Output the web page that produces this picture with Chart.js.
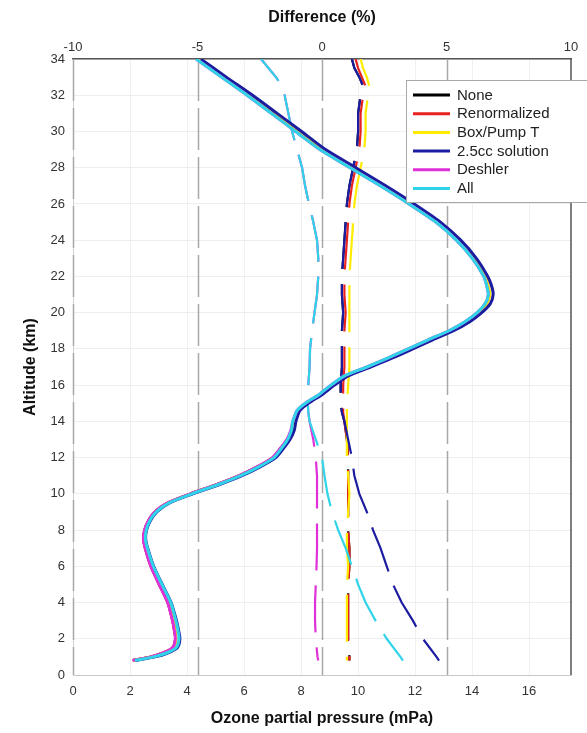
<!DOCTYPE html>
<html>
<head>
<meta charset="utf-8">
<script src="https://cdn.jsdelivr.net/npm/chart.js@4.4.1/dist/chart.umd.min.js"></script>
<style>
  html, body { margin: 0; padding: 0; background: #ffffff; }
  canvas { display: block; }
</style>
</head>
<body>
<canvas id="chart" width="587" height="733"></canvas>
<script>
// Correction schemes, in legend order
const seriesNames  = ['None', 'Renormalized', 'Box/Pump T', '2.5cc solution', 'Deshler', 'All'];
const seriesColors = ['#000000', '#e8231f', '#ffec00', '#1c1ca0', '#e030d8', '#30d4e8'];

// Axis ticks
const altitudeTicks = [0, 2, 4, 6, 8, 10, 12, 14, 16, 18, 20, 22, 24, 26, 28, 30, 32, 34];
const pressureTicks = [0, 2, 4, 6, 8, 10, 12, 14, 16];
const differenceTicks = [-10, -5, 0, 5, 10];
const referenceDiffs = [-10, -5, 0, 5];

// Ozone partial pressure profiles (mPa) against altitude (km)
const profileAlt = [34, 33, 32, 31, 30, 29, 28, 27, 26, 25, 24, 23, 22, 21.5, 21, 20.5, 20, 19.5, 19, 18.5,
  18, 17.5, 17, 16.5, 16, 15.5, 15, 14.6, 14.3, 14, 13.5, 13, 12.5, 12, 11.5, 11, 10.5, 10, 9.5, 9,
  8.5, 8, 7.5, 7, 6, 5, 4, 3, 2.5, 2, 1.5, 1.2, 1.0, 0.8];

const profileNone = [4.42, 5.30, 6.20, 7.05, 7.90, 8.74, 9.80, 10.85, 11.85, 12.77, 13.48, 14.03, 14.43, 14.54, 14.60, 14.50, 14.22, 13.80, 13.24, 12.52,
  11.82, 11.12, 10.36, 9.56, 9.10, 8.70, 8.20, 7.90, 7.82, 7.75, 7.68, 7.53, 7.29, 7.02, 6.49, 5.84, 5.04, 4.13, 3.33, 2.88,
  2.65, 2.52, 2.48, 2.54, 2.74, 3.03, 3.33, 3.50, 3.56, 3.60, 3.50, 3.15, 2.74, 2.10];
const profileRenorm = [4.42, 5.30, 6.20, 7.05, 7.90, 8.74, 9.80, 10.85, 11.85, 12.77, 13.48, 14.03, 14.43, 14.54, 14.60, 14.50, 14.22, 13.80, 13.24, 12.52,
  11.82, 11.12, 10.36, 9.56, 9.10, 8.70, 8.20, 7.90, 7.82, 7.75, 7.68, 7.53, 7.29, 7.02, 6.49, 5.84, 5.04, 4.13, 3.33, 2.88,
  2.65, 2.52, 2.48, 2.54, 2.74, 3.03, 3.33, 3.50, 3.56, 3.60, 3.50, 3.15, 2.74, 2.10];
const profileBox = [4.43, 5.31, 6.21, 7.06, 7.92, 8.76, 9.82, 10.87, 11.87, 12.79, 13.50, 14.05, 14.45, 14.56, 14.62, 14.52, 14.24, 13.82, 13.26, 12.54,
  11.84, 11.14, 10.37, 9.57, 9.11, 8.71, 8.21, 7.91, 7.83, 7.76, 7.69, 7.54, 7.30, 7.03, 6.50, 5.85, 5.05, 4.14, 3.34, 2.89,
  2.66, 2.53, 2.49, 2.55, 2.75, 3.04, 3.34, 3.51, 3.57, 3.61, 3.51, 3.16, 2.75, 2.11];
const profile25cc = [4.48, 5.38, 6.30, 7.16, 8.02, 8.86, 9.92, 10.97, 11.97, 12.89, 13.60, 14.15, 14.55, 14.68, 14.74, 14.64, 14.34, 13.92, 13.35, 12.62,
  11.92, 11.21, 10.44, 9.64, 9.17, 8.76, 8.26, 7.96, 7.88, 7.82, 7.76, 7.61, 7.38, 7.11, 6.58, 5.93, 5.12, 4.20, 3.39, 2.94,
  2.71, 2.58, 2.55, 2.62, 2.83, 3.13, 3.44, 3.63, 3.70, 3.75, 3.66, 3.30, 2.87, 2.20];
const profileDeshler = [4.32, 5.21, 6.11, 6.96, 7.81, 8.66, 9.72, 10.78, 11.79, 12.73, 13.45, 14.01, 14.41, 14.51, 14.57, 14.46, 14.18, 13.75, 13.19, 12.46,
  11.76, 11.06, 10.31, 9.51, 9.05, 8.65, 8.15, 7.86, 7.78, 7.71, 7.64, 7.50, 7.27, 7.00, 6.47, 5.83, 5.03, 4.12, 3.32, 2.87,
  2.64, 2.51, 2.47, 2.53, 2.73, 3.02, 3.32, 3.49, 3.55, 3.59, 3.49, 3.14, 2.73, 2.09];
const profileAll = [4.32, 5.21, 6.11, 6.96, 7.81, 8.66, 9.72, 10.78, 11.79, 12.73, 13.45, 14.01, 14.41, 14.51, 14.57, 14.46, 14.18, 13.75, 13.19, 12.46,
  11.76, 11.06, 10.31, 9.51, 9.05, 8.65, 8.15, 7.86, 7.78, 7.71, 7.66, 7.53, 7.31, 7.05, 6.53, 5.88, 5.08, 4.17, 3.37, 2.92,
  2.69, 2.57, 2.54, 2.61, 2.82, 3.12, 3.43, 3.61, 3.68, 3.72, 3.62, 3.26, 2.83, 2.17];

// Percent differences against altitude (km)
const diffAlt = [34, 33.5, 33, 32.5, 32, 31, 30, 29, 28, 27, 26, 25, 24, 23, 22, 21, 20, 19, 18, 17,
  16, 15, 14.5, 14, 13, 12, 11, 10, 9, 8, 7, 6, 5, 4, 3, 2, 1, 0.8];

const diffNone = [1.2, 1.3, 1.5, 1.65, 1.55, 1.45, 1.45, 1.4, 1.25, 1.1, 1.0, 0.95, 0.9, 0.85, 0.8, 0.8, 0.85, 0.8, 0.8, 0.8,
  0.75, 0.75, 0.8, 0.9, 1.0, 1.05, 1.05, 1.05, 1.05, 1.05, 1.1, 1.1, 1.05, 1.05, 1.05, 1.05, 1.1, 1.1];
const diffRenorm = [1.35, 1.45, 1.6, 1.75, 1.65, 1.55, 1.55, 1.5, 1.35, 1.2, 1.1, 1.05, 1.0, 0.95, 0.9, 0.9, 0.95, 0.9, 0.9, 0.9,
  0.85, 0.85, 0.85, 0.9, 1.0, 1.05, 1.05, 1.05, 1.05, 1.05, 1.1, 1.1, 1.05, 1.05, 1.05, 1.05, 1.1, 1.1];
const diffBox = [1.55, 1.65, 1.8, 1.9, 1.85, 1.75, 1.75, 1.7, 1.55, 1.4, 1.3, 1.25, 1.2, 1.15, 1.1, 1.1, 1.1, 1.1, 1.1, 1.1,
  1.05, 1.0, 1.0, 1.0, 1.0, 1.0, 1.05, 1.1, 1.05, 1.0, 1.0, 1.05, 1.0, 1.0, 1.0, 1.0, 1.0, 1.0];
const diff25cc = [1.2, 1.3, 1.5, 1.65, 1.55, 1.45, 1.45, 1.4, 1.25, 1.1, 1.0, 0.95, 0.9, 0.85, 0.8, 0.8, 0.85, 0.8, 0.8, 0.8,
  0.75, 0.75, 0.8, 0.9, 1.05, 1.2, 1.3, 1.5, 1.8, 2.05, 2.35, 2.6, 2.85, 3.2, 3.65, 4.05, 4.6, 4.7];
const diffDeshler = [-2.45, -2.15, -1.85, -1.6, -1.5, -1.35, -1.2, -1.0, -0.8, -0.68, -0.52, -0.35, -0.2, -0.15, -0.15, -0.2, -0.3, -0.4, -0.48, -0.5,
  -0.55, -0.57, -0.55, -0.5, -0.35, -0.25, -0.2, -0.2, -0.2, -0.2, -0.2, -0.22, -0.25, -0.28, -0.28, -0.25, -0.18, -0.15];
const diffAll = [-2.45, -2.15, -1.85, -1.6, -1.5, -1.35, -1.2, -1.0, -0.8, -0.68, -0.52, -0.35, -0.2, -0.15, -0.15, -0.2, -0.3, -0.4, -0.48, -0.5,
  -0.55, -0.57, -0.55, -0.5, -0.25, 0.0, 0.1, 0.22, 0.4, 0.65, 0.95, 1.2, 1.45, 1.75, 2.15, 2.6, 3.15, 3.25];

const profiles = [profileNone, profileRenorm, profileBox, profile25cc, profileDeshler, profileAll];
const diffs = [diffNone, diffRenorm, diffBox, diff25cc, diffDeshler, diffAll];

const pairUp = (xs, alts) => xs.map((v, i) => ({ x: v, y: alts[i] }));

const FONT = '"Liberation Sans", Arial, Helvetica, sans-serif';

// Chart.js draws dataset 0 last (on top), so the lists are reversed:
// profiles above the dashed difference curves, "All" uppermost within each group.
const profileSets = [];
for (let i = seriesNames.length - 1; i >= 0; i--) {
  profileSets.push({
    label: seriesNames[i] + ' (profile)',
    data: pairUp(profiles[i], profileAlt),
    xAxisID: 'x',
    yAxisID: 'y',
    borderColor: seriesColors[i],
    borderWidth: 3,
    pointRadius: 0,
    tension: 0.25,
    fill: false,
    showLine: true
  });
}
const diffSets = [];
for (let i = seriesNames.length - 1; i >= 0; i--) {
  diffSets.push({
    label: seriesNames[i] + ' (difference)',
    data: pairUp(diffs[i], diffAlt),
    xAxisID: 'x2',
    yAxisID: 'y',
    borderColor: seriesColors[i],
    borderWidth: 2.2,
    borderDash: [47, 15],
    borderDashOffset: 19,
    pointRadius: 0,
    tension: 0,
    fill: false,
    showLine: true
  });
}
const allSets = profileSets.concat(diffSets);

// Dashed grey verticals at the difference reference values, plus the right frame edge
const framePlugin = {
  id: 'frameLines',
  beforeDatasetsDraw(chart) {
    const { ctx, chartArea } = chart;
    const sx = chart.scales.x2;
    ctx.save();
    ctx.strokeStyle = '#a8a8a8';
    ctx.lineWidth = 1.5;
    ctx.setLineDash([42, 7]);
    referenceDiffs.forEach(v => {
      const px = Math.round(sx.getPixelForValue(v)) + 0.5;
      ctx.beginPath();
      ctx.moveTo(px, chartArea.top);
      ctx.lineTo(px, chartArea.bottom);
      ctx.stroke();
    });
    ctx.restore();
  },
  afterDatasetsDraw(chart) {
    const { ctx, chartArea } = chart;
    ctx.save();
    ctx.strokeStyle = '#555555';
    ctx.lineWidth = 1.5;
    ctx.beginPath();
    ctx.moveTo(chartArea.right, chartArea.top);
    ctx.lineTo(chartArea.right, chartArea.bottom);
    ctx.stroke();
    ctx.restore();
  }
};

// Boxed key in the upper right, drawn over the plot
const keyPlugin = {
  id: 'seriesKey',
  afterDraw(chart) {
    const ctx = chart.ctx;
    const left = 406, top = 80, w = 190, h = 122;
    ctx.save();
    ctx.fillStyle = '#ffffff';
    ctx.fillRect(left, top, w, h);
    ctx.strokeStyle = '#a8a8a8';
    ctx.lineWidth = 1;
    ctx.strokeRect(left + 0.5, top + 0.5, w, h);
    ctx.font = '15px ' + FONT;
    ctx.textBaseline = 'middle';
    ctx.textAlign = 'left';
    seriesNames.forEach((name, i) => {
      const y = 95 + i * 18.7;
      ctx.strokeStyle = seriesColors[i];
      ctx.lineWidth = 3;
      ctx.beginPath();
      ctx.moveTo(413, y);
      ctx.lineTo(450, y);
      ctx.stroke();
      ctx.fillStyle = '#222222';
      ctx.fillText(name, 457, y + 0.5);
    });
    ctx.restore();
  }
};

new Chart(document.getElementById('chart'), {
  type: 'scatter',
  data: { datasets: allSets },
  options: {
    responsive: false,
    animation: false,
    devicePixelRatio: 1,
    layout: { padding: { left: 0, right: 16, top: 0, bottom: 0 } },
    plugins: {
      legend: { display: false },
      tooltip: { enabled: false }
    },
    scales: {
      x: {
        type: 'linear',
        position: 'bottom',
        min: 0,
        max: 17.47,
        afterBuildTicks: s => { s.ticks = pressureTicks.map(v => ({ value: v })); },
        ticks: { font: { size: 13, family: FONT }, color: '#333333', padding: 9 },
        grid: { color: '#f0f0f0', drawTicks: false },
        border: { display: true, color: '#c8c8c8', width: 1 },
        title: {
          display: true,
          text: 'Ozone partial pressure (mPa)',
          font: { size: 16, weight: 'bold', family: FONT },
          color: '#111111',
          padding: { top: 0, bottom: 5 }
        },
        afterFit: s => { s.height = 58; }
      },
      x2: {
        type: 'linear',
        position: 'top',
        min: -10,
        max: 10,
        afterBuildTicks: s => { s.ticks = differenceTicks.map(v => ({ value: v })); },
        ticks: { font: { size: 13, family: FONT }, color: '#333333', padding: 4 },
        grid: { display: false, drawTicks: false },
        border: { display: true, color: '#555555', width: 1.5 },
        title: {
          display: true,
          text: 'Difference (%)',
          font: { size: 16, weight: 'bold', family: FONT },
          color: '#111111',
          padding: { top: 8, bottom: 0 }
        },
        afterFit: s => { s.height = 59; }
      },
      y: {
        type: 'linear',
        position: 'left',
        min: 0,
        max: 34,
        afterBuildTicks: s => { s.ticks = altitudeTicks.map(v => ({ value: v })); },
        ticks: { font: { size: 13, family: FONT }, color: '#333333', padding: 8 },
        grid: { color: '#eeeeee', drawTicks: false },
        border: { display: true, color: '#d0d0d0', width: 1 },
        title: {
          display: true,
          text: 'Altitude (km)',
          font: { size: 16, weight: 'bold', family: FONT },
          color: '#111111',
          padding: { top: 21, bottom: 0 }
        },
        afterFit: s => { s.width = 73; }
      }
    }
  },
  plugins: [framePlugin, keyPlugin]
});
</script>
</body>
</html>
